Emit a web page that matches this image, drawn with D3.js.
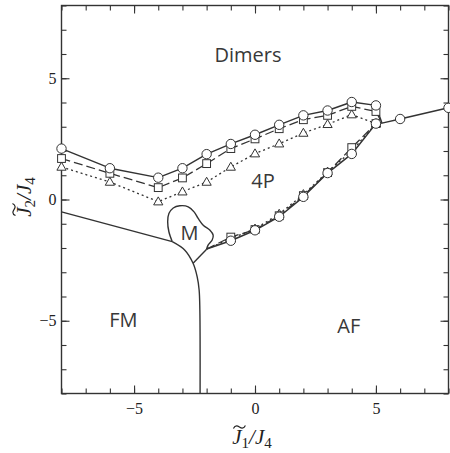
<!DOCTYPE html>
<html><head><meta charset="utf-8">
<script src="https://cdn.jsdelivr.net/npm/d3@7"></script>
<style>body{margin:0;background:#fff}svg{display:block}</style>
</head><body>
<svg id="c" width="450" height="453"></svg>
<script>
// ---- data ----
const majorTicks = [-5, 0, 5];
const minorTicks = [-8,-7,-6,-5,-4,-3,-2,-1,0,1,2,3,4,5,6,7,8];
const tickLabels = ["\u22125", "0", "5"];

const upperX        = [-8, -6, -4, -3, -2, -1, 0, 1, 2, 3, 4, 5];
const upperCircle   = [2.10, 1.29, 0.90, 1.29, 1.87, 2.29, 2.67, 3.08, 3.47, 3.67, 4.02, 3.88];
const upperSquare   = [1.69, 1.08, 0.49, 0.89, 1.48, 2.10, 2.50, 2.92, 3.29, 3.47, 3.84, 3.63];
const upperTriangle = [1.34, 0.72, -0.09, 0.32, 0.72, 1.34, 1.89, 2.30, 2.74, 3.10, 3.50, 3.13];
const junctionX = [5.25];
const junctionY = [3.15];

const lowerX        = [-2.0, -1, 0, 1, 2, 3, 4, 5];
const lowerCircle   = [-2.04, -1.70, -1.27, -0.71, 0.11, 1.09, 1.88, 3.13];
const lowerSquare   = [-2.04, -1.55, -1.24, -0.67, 0.16, 1.11, 2.14, 3.13];
const lowerTriangle = [-2.04, -1.62, -1.21, -0.60, 0.21, 1.14, 2.00, 3.13];

const tailX = [6, 8];
const tailY = [3.32, 3.78];

const fmLineX = [-8, -3.42];
const fmLineY = [-0.51, -1.74];
const mBlobX = [-3.42, -3.56, -3.61, -3.56, -3.38, -3.11, -2.76, -2.52, -2.35, -2.14, -1.87, -1.73, -1.77, -1.94, -2.0];
const mBlobY = [-1.74, -1.33, -0.92, -0.58, -0.35, -0.26, -0.30, -0.51, -0.78, -1.06, -1.26, -1.47, -1.67, -1.88, -2.05];
const fmCurveX = [-3.42, -2.90, -2.56, -2.39, -2.31, -2.28, -2.27];
const fmCurveY = [-1.74, -2.09, -2.63, -3.19, -3.73, -4.55, -8];
const mLinkX = [-2.0, -2.56];
const mLinkY = [-2.05, -2.63];

const regionNames = ["Dimers", "4P", "M", "FM", "AF"];
const regionX = [-0.29, 0.33, -2.71, -5.44, 3.88];
const regionY = [5.67, 0.47, -1.67, -5.26, -5.5];

// ---- drawing ----
const ink = "#333";
const svg = d3.select("#c");
const x = d3.scaleLinear().domain([-8, 8]).range([61.5, 448.5]);
const y = d3.scaleLinear().domain([-8, 8]).range([393.5, 5.5]);
const zip = (a, b) => a.map((v, i) => [v, b[i]]);

// axes (inward ticks on all sides)
function axisPair(axisFn, transform, labels) {
  const gMinor = svg.append("g").attr("transform", transform)
    .call(axisFn(axisFn === d3.axisBottom || axisFn === d3.axisTop ? x : y)
      .tickValues(minorTicks).tickSize(-5).tickFormat(""));
  const gMajor = svg.append("g").attr("transform", transform)
    .call(axisFn(axisFn === d3.axisBottom || axisFn === d3.axisTop ? x : y)
      .tickValues(majorTicks).tickSize(-8)
      .tickPadding(axisFn === d3.axisBottom ? 9 : 5)
      .tickFormat(labels ? (d, i) => tickLabels[i] : ""));
  [gMinor, gMajor].forEach(g => {
    g.select(".domain").remove();
    g.selectAll("line").attr("stroke", ink).attr("stroke-width", 1.1);
    g.selectAll("text").attr("fill", "#222")
      .style("font-family", "'Liberation Serif','Times New Roman',serif")
      .style("font-size", "16px");
  });
}
axisPair(d3.axisBottom, `translate(0,${y(-8)})`, true);
axisPair(d3.axisTop, `translate(0,${y(8)})`, false);
axisPair(d3.axisLeft, `translate(${x(-8)},0)`, true);
axisPair(d3.axisRight, `translate(${x(8)},0)`, false);

svg.append("rect").attr("x", x(-8)).attr("y", y(8))
  .attr("width", x(8) - x(-8)).attr("height", y(-8) - y(8))
  .attr("fill", "none").attr("stroke", ink).attr("stroke-width", 1.4);

const line = d3.line().x(d => x(d[0])).y(d => y(d[1]));
const smooth = d3.line().x(d => x(d[0])).y(d => y(d[1])).curve(d3.curveCatmullRom.alpha(0.5));

function path(pts, gen, dash, w) {
  svg.append("path").attr("d", gen(pts)).attr("fill", "none")
    .attr("stroke", ink).attr("stroke-width", w || 1.4)
    .attr("stroke-dasharray", dash || null)
    .attr("stroke-linejoin", "round");
}

// phase boundaries
path(zip(fmLineX, fmLineY), line);
path(zip(mBlobX, mBlobY), smooth);
path(zip(fmCurveX, fmCurveY), smooth);
path(zip(mLinkX, mLinkY), line);

// series lines
const J = zip(junctionX, junctionY);
path(zip(upperX, upperTriangle), line, "2,3", 1.3);
path(zip(lowerX, lowerTriangle), line, "2,3", 1.3);
path(zip(upperX, upperSquare).concat(J), line, "9,4", 1.3);
path(zip(lowerX, lowerSquare).concat(J), line, "9,4", 1.3);
path(zip(upperX, upperCircle).concat(J), line, null, 1.4);
path(zip(lowerX, lowerCircle).concat(J).concat(zip(tailX, tailY)), line, null, 1.5);

// markers
function markers(pts, kind) {
  const g = svg.append("g");
  pts.forEach(p => {
    const cx = x(p[0]), cy = y(p[1]);
    let m;
    if (kind === "circle") m = g.append("circle").attr("cx", cx).attr("cy", cy).attr("r", 4.7);
    else if (kind === "square") m = g.append("rect").attr("x", cx - 3.9).attr("y", cy - 3.9).attr("width", 7.8).attr("height", 7.8);
    else m = g.append("path").attr("d", `M${cx},${cy - 4.8}L${cx + 4.6},${cy + 3.2}L${cx - 4.6},${cy + 3.2}Z`);
    m.attr("fill", "#fff").attr("stroke", ink).attr("stroke-width", 1);
  });
}
markers(zip(upperX, upperTriangle).concat(zip(lowerX, lowerTriangle).slice(1)), "triangle");
markers(zip(upperX, upperSquare).concat(zip(lowerX, lowerSquare).slice(1)), "square");
markers(zip(upperX, upperCircle).concat(zip(lowerX, lowerCircle).slice(1)).concat(zip(tailX, tailY)), "circle");

// region labels
regionNames.forEach((n, i) => {
  svg.append("text").attr("x", x(regionX[i])).attr("y", y(regionY[i]))
    .attr("text-anchor", "middle").attr("fill", "#383838")
    .style("font-family", "'Open Sans','Noto Sans',sans-serif").style("font-size", "20px")
    .text(n);
});

// axis titles J~_n / J_4
function mathTitle(g, sub) {
  const t = g.append("text").attr("text-anchor", "middle")
    .style("font-family", "'Liberation Serif','Times New Roman',serif")
    .style("font-size", "21px").attr("fill", "#222");
  t.append("tspan").style("font-style", "italic").text("J");
  t.append("tspan").attr("dy", 4).style("font-size", "15px").text(sub);
  t.append("tspan").attr("dy", -4).style("font-style", "italic").text("/J");
  t.append("tspan").attr("dy", 4).style("font-size", "15px").text("4");
  const n = t.node();
  const s = n.getStartPositionOfChar(0), e = n.getEndPositionOfChar(0);
  const cx = (s.x + e.x) / 2 + 2.5, ty = s.y - 17;
  g.append("path")
    .attr("d", `M${cx - 6},${ty + 1.5} C${cx - 4},${ty - 2.5} ${cx - 1.5},${ty - 1} ${cx},${ty} S${cx + 4},${ty + 2.5} ${cx + 6},${ty - 1.5}`)
    .attr("fill", "none").attr("stroke", "#222").attr("stroke-width", 1.2);
}
mathTitle(svg.append("g").attr("transform", "translate(252,444)"), "1");
mathTitle(svg.append("g").attr("transform", "translate(31,197) rotate(-90)"), "2");
</script>
</body></html>
